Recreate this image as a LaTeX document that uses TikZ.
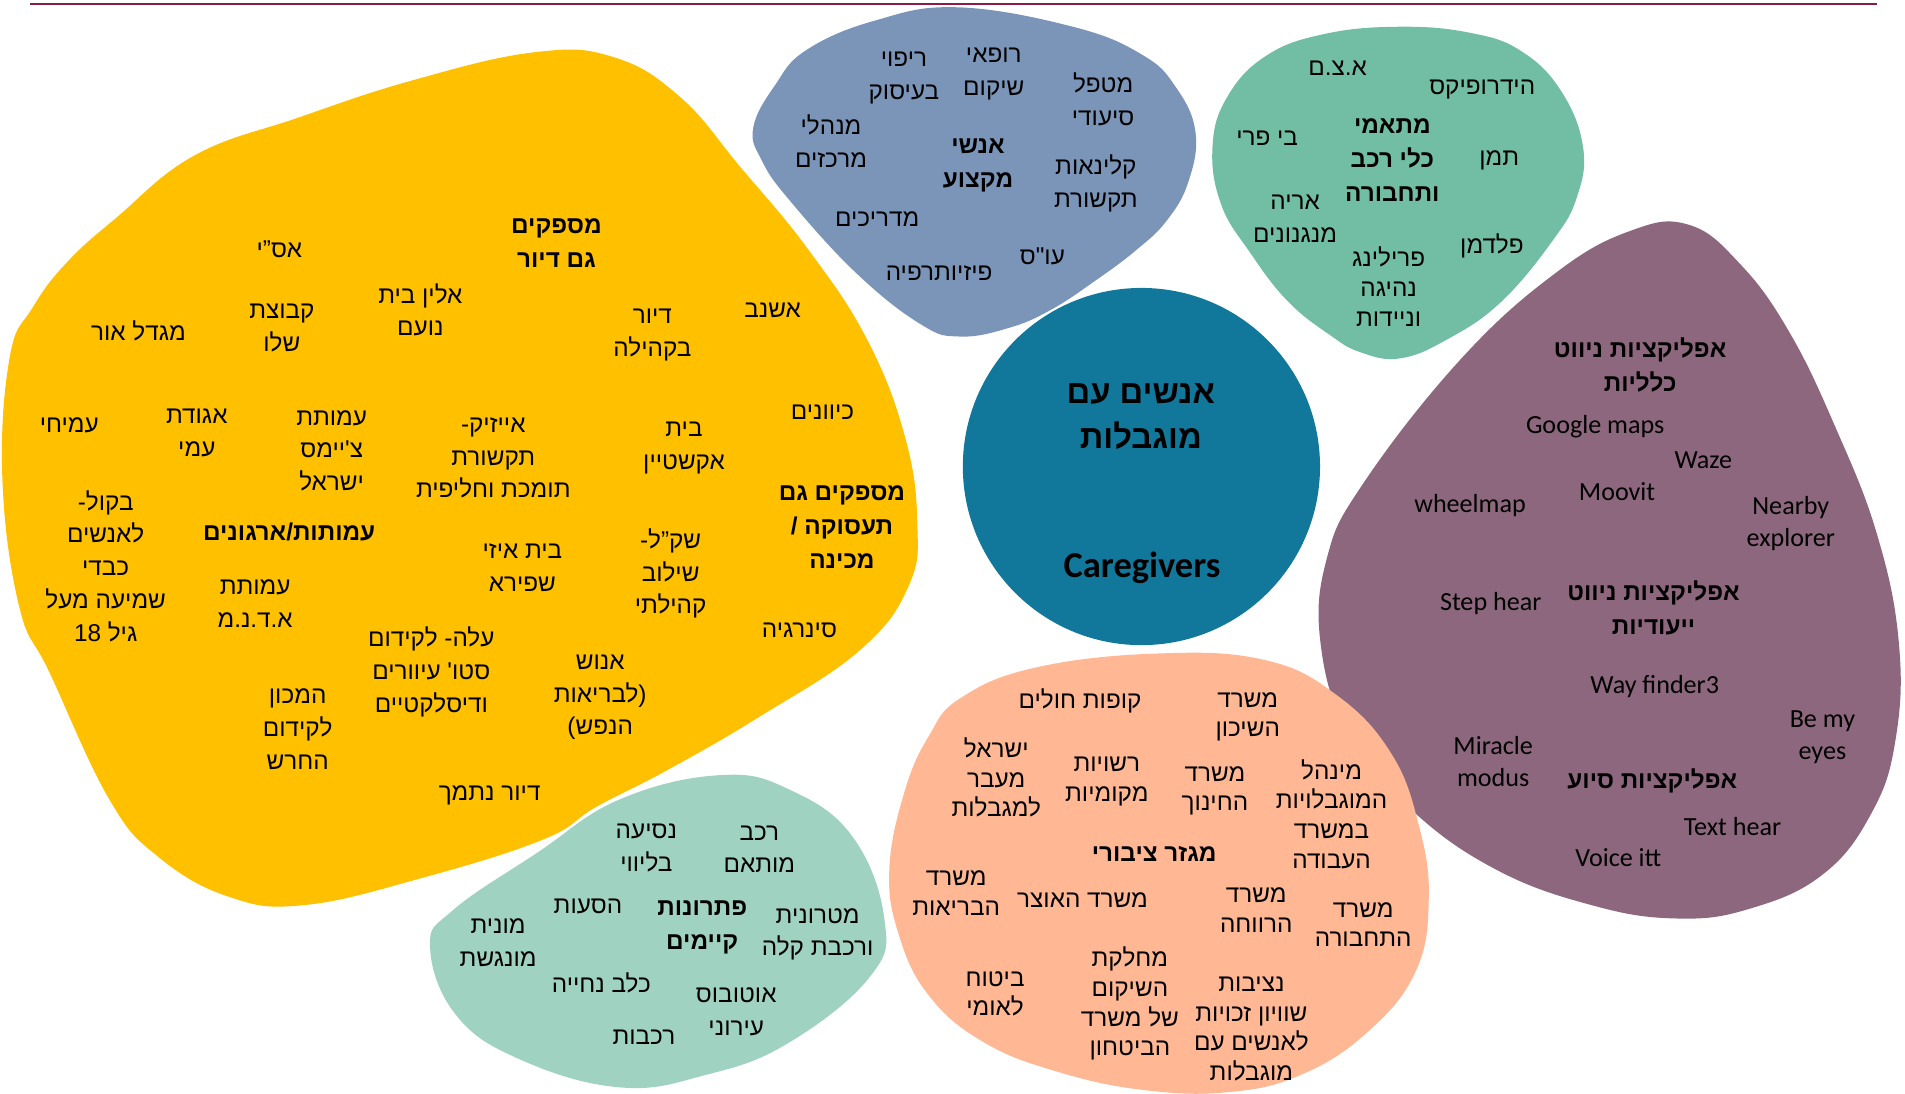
\documentclass[tikz,border=0pt]{standalone}
\usepackage{fontspec}
\newfontfamily\hebfont[Script=Hebrew]{Liberation Sans}
\newfontfamily\engfont{Carlito}
\TeXXeTstate=1
\newcommand{\rl}[1]{\beginR#1\endR}
\definecolor{topline}{HTML}{8E1B45}
\definecolor{yell}{HTML}{FFC000}
\definecolor{prof}{HTML}{7B95B9}
\definecolor{vehic}{HTML}{72BEA4}
\definecolor{core}{HTML}{11789B}
\definecolor{apps}{HTML}{8D677E}
\definecolor{pub}{HTML}{FFB794}
\definecolor{sol}{HTML}{A0D2C2}
\begin{document}
\begin{tikzpicture}[x=1pt,y=-1pt,
  txt/.style={font={\hebfont\fontsize{20}{27}\selectfont},align=center,inner sep=0pt},
  stxt/.style={font={\hebfont\fontsize{20}{24.5}\selectfont},align=center,inner sep=0pt},
  ttl/.style={font={\hebfont\bfseries\fontsize{20}{28}\selectfont},align=center,inner sep=0pt},
  eng/.style={font={\engfont\fontsize{21.5}{26}\selectfont},align=center,inner sep=0pt},
  blob/.style={smooth cycle,tension=0.7}]
\useasboundingbox (0,0) rectangle (1568,900);
\draw[topline,line width=1.6pt] (25,3) -- (1545,3);
% blobs
\fill[yell] plot[blob] coordinates {(2,395) (8,294) (27,253) (55,216) (96,179) (160,128) (245,97) (340,66) (440,43) (505,47) (560,80) (609,137) (665,205) (714,280) (745,360) (755,430) (748,482) (708,535) (625,590) (549,634) (491,664) (447,691) (346,723) (250,745) (188,738) (130,705) (90,658) (41,554) (16,500)};
\fill[prof] plot[blob] coordinates {(620,105) (638,70) (664,41) (720,17) (788,6) (883,22) (940,45) (968,72) (984,109) (978,150) (960,182) (935,206) (903,230) (865,255) (830,270) (790,277) (758,267) (705,225) (650,165) (627,132)};
\fill[vehic] plot[blob] coordinates {(998,121) (1010,80) (1042,46) (1090,28) (1152,22) (1210,27) (1252,42) (1285,75) (1303,121) (1298,162) (1278,198) (1235,249) (1190,280) (1152,295) (1120,290) (1095,276) (1060,248) (1029,208) (1005,168)};
\fill[core] (939.5,384) circle (147);
\fill[apps] plot[blob] coordinates {(1390,185) (1432,217) (1472,272) (1510,350) (1545,440) (1563,530) (1560,610) (1540,670) (1500,720) (1440,748) (1380,756) (1310,745) (1230,715) (1160,665) (1110,605) (1087,530) (1092,460) (1122,398) (1202,296) (1280,225) (1342,190)};
\fill[pub] plot[blob] coordinates {(790,575) (850,550) (950,538) (1040,543) (1100,572) (1145,620) (1168,680) (1176,740) (1165,800) (1125,850) (1070,885) (1010,899) (940,897) (870,882) (810,858) (765,820) (740,770) (732,715) (745,650) (765,605)};
\fill[sol] plot[blob] coordinates {(510,658) (593,638) (650,650) (702,689) (728,757) (716,804) (648,859) (580,885) (510,895) (428,872) (375,835) (354,779) (373,749) (442,702)};
% housing and employment
\node[ttl] (dirtitle) at (458,200) {\rl{מספקים}\\\rl{גם דיור}};
\node[txt] (asi) at (230,205) {\rl{אס”י}};
\node[txt] (alin) at (346,255) {\rl{אלין בית}\\\rl{נועם}};
\node[txt] (kvutza) at (232,270) {\rl{קבוצת}\\\rl{שלו}};
\node[txt] (migdal) at (114,272) {\rl{מגדל אור}};
\node[txt] (dirkehila) at (537,276) {\rl{דיור}\\\rl{בקהילה}};
\node[txt] (eshnav) at (636,255) {\rl{אשנב}};
\node[txt] (kivunim) at (677,339) {\rl{כיוונים}};
\node[txt] (amichai) at (57,350) {\rl{עמיחי}};
\node[txt] (agudat) at (162,356) {\rl{אגודת}\\\rl{עמי}};
\node[txt] (james) at (273,371) {\rl{עמותת}\\\rl{צ'יימס}\\\rl{ישראל}};
\node[txt] (isaac) at (406,377) {\rl{אייזיק-}\\\rl{תקשורת}\\\rl{תומכת וחליפית}};
\node[txt] (ekstein) at (563,369) {\rl{בית}\\\rl{אקשטיין}};
\node[ttl] (emptitle) at (693,434) {\rl{מספקים גם}\\\rl{תעסוקה /}\\\rl{מכינה}};
\node[txt] (bekol) at (87,466) {\rl{בקול-}\\\rl{לאנשים}\\\rl{כבדי}\\\rl{שמיעה מעל}\\\rl{גיל 18}};
\node[ttl] (orgtitle) at (238,438) {\rl{עמותות/ארגונים}};
\node[txt] (izi) at (430,467) {\rl{בית איזי}\\\rl{שפירא}};
\node[txt] (shekel) at (552,472) {\rl{שק”ל-}\\\rl{שילוב}\\\rl{קהילתי}};
\node[txt] (adnm) at (210,497) {\rl{עמותת}\\\rl{א.ד.נ.מ}};
\node[txt] (synergy) at (658,519) {\rl{סינרגיה}};
\node[txt] (ale) at (355,553) {\rl{עלה- לקידום}\\\rl{סטו' עיוורים}\\\rl{ודיסלקטיים}};
\node[txt] (enosh) at (494,574) {\rl{אנוש}\\\rl{(לבריאות}\\\rl{הנפש)}};
\node[txt] (hamachon) at (245,600) {\rl{המכון}\\\rl{לקידום}\\\rl{החרש}};
\node[txt] (nitmach) at (403,655) {\rl{דיור נתמך}};
% professionals
\node[txt] (ripui) at (744,64) {\rl{ריפוי}\\\rl{בעיסוק}};
\node[txt] (rofei) at (818,61) {\rl{רופאי}\\\rl{שיקום}};
\node[txt] (metapel) at (908,82) {\rl{מטפל}\\\rl{סיעודי}};
\node[txt] (menahalei) at (684,116) {\rl{מנהלי}\\\rl{מרכזים}};
\node[ttl] (protitle) at (805,136) {\rl{אנשי}\\\rl{מקצוע}};
\node[txt] (klinaut) at (902,151) {\rl{קלינאות}\\\rl{תקשורת}};
\node[txt] (madrichim) at (722,180) {\rl{מדריכים}};
\node[txt] (os) at (858,211) {\rl{עו"ס}};
\node[txt] (physio) at (773,225) {\rl{פיזיותרפיה}};
% vehicles
\node[txt] (atzam) at (1101,56) {\rl{א.צ.ם}};
\node[txt] (hydro) at (1220,74) {\rl{הידרופיקס}};
\node[ttl] (vehtitle) at (1146,132) {\rl{מתאמי}\\\rl{כלי רכב}\\\rl{ותחבורה}};
\node[txt] (bipri) at (1043,114) {\rl{בי פרי}};
\node[txt] (taman) at (1234,132) {\rl{תמן}};
\node[txt] (arie) at (1066,180) {\rl{אריה}\\\rl{מנגנונים}};
\node[txt] (feldman) at (1228,202) {\rl{פלדמן}};
\node[stxt] (freiling) at (1143,236) {\rl{פרילינג}\\\rl{נהיגה}\\\rl{וניידות}};
% centre
\node[font={\hebfont\bfseries\fontsize{27}{37}\selectfont},align=center,inner sep=0pt] (pwd) at (939,343) {\rl{אנשים עם}\\\rl{מוגבלות}};
\node[font={\engfont\bfseries\fontsize{30}{36}\selectfont},inner sep=0pt] (caregivers) at (940,467) {Caregivers};
% apps
\node[ttl] (navtitle) at (1350,300) {\rl{אפליקציות ניווט}\\\rl{כלליות}};
\node[eng] (google) at (1313,351) {Google maps};
\node[eng] (waze) at (1402,379) {Waze};
\node[eng] (moovit) at (1331,405) {Moovit};
\node[eng] (wheelmap) at (1210,416) {wheelmap};
\node[eng] (nearby) at (1474,431) {Nearby\\explorer};
\node[eng] (stephear) at (1227,497) {Step hear};
\node[ttl] (dedtitle) at (1361,500) {\rl{אפליקציות ניווט}\\\rl{ייעודיות}};
\node[eng] (wayfinder) at (1362,565) {Way finder3};
\node[eng] (bemyeyes) at (1500,607) {Be my\\eyes};
\node[eng] (miracle) at (1229,627) {Miracle\\modus};
\node[ttl] (asttitle) at (1360,643) {\rl{אפליקציות סיוע}};
\node[eng] (texthear) at (1426,680) {Text hear};
\node[eng] (voiceitt) at (1332,706) {Voice itt};
% public sector
\node[stxt] (kupot) at (889,577) {\rl{קופות חולים}};
\node[stxt] (shikun) at (1027,590) {\rl{משרד}\\\rl{השיכון}};
\node[stxt] (maavar) at (820,640) {\rl{ישראל}\\\rl{מעבר}\\\rl{למגבלות}};
\node[stxt] (rashuyot) at (911,643) {\rl{רשויות}\\\rl{מקומיות}};
\node[stxt] (chinuch) at (1000,651) {\rl{משרד}\\\rl{החינוך}};
\node[stxt] (minhal) at (1096,670) {\rl{מינהל}\\\rl{המוגבלויות}\\\rl{במשרד}\\\rl{העבודה}};
\node[ttl] (pubtitle) at (950,703) {\rl{מגזר ציבורי}};
\node[stxt] (briut) at (787,735) {\rl{משרד}\\\rl{הבריאות}};
\node[stxt] (otzar) at (891,741) {\rl{משרד האוצר}};
\node[stxt] (revacha) at (1034,749) {\rl{משרד}\\\rl{הרווחה}};
\node[stxt] (tachbura) at (1122,761) {\rl{משרד}\\\rl{התחבורה}};
\node[stxt] (bituach) at (819,818) {\rl{ביטוח}\\\rl{לאומי}};
\node[stxt] (shikum) at (930,826) {\rl{מחלקת}\\\rl{השיקום}\\\rl{של משרד}\\\rl{הביטחון}};
\node[stxt] (netzivut) at (1030,847) {\rl{נציבות}\\\rl{שוויון זכויות}\\\rl{לאנשים עם}\\\rl{מוגבלות}};
% existing solutions
\node[txt] (bilivui) at (532,698) {\rl{נסיעה}\\\rl{בליווי}};
\node[txt] (mutam) at (625,699) {\rl{רכב}\\\rl{מותאם}};
\node[txt] (hasaot) at (484,746) {\rl{הסעות}};
\node[ttl] (soltitle) at (578,763) {\rl{פתרונות}\\\rl{קיימים}};
\node[txt] (metronit) at (673,769) {\rl{מטרונית}\\\rl{ורכבת קלה}};
\node[txt] (monit) at (410,776) {\rl{מונית}\\\rl{מונגשת}};
\node[txt] (kelev) at (495,809) {\rl{כלב נחייה}};
\node[txt] (bus) at (606,833) {\rl{אוטובוס}\\\rl{עירוני}};
\node[txt] (trains) at (530,854) {\rl{רכבות}};
\end{tikzpicture}
\end{document}
